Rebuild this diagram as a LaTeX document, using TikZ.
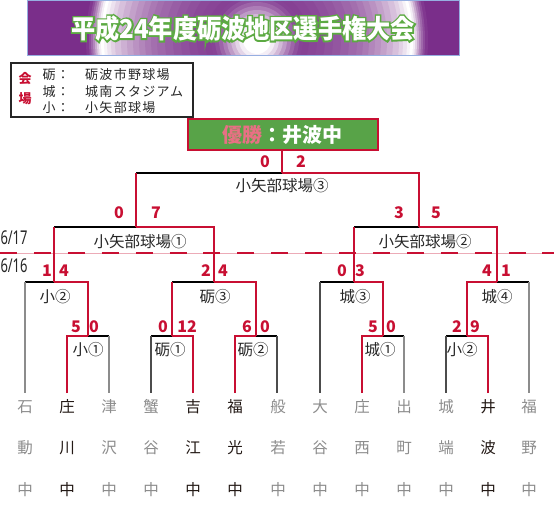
\documentclass[tikz,border=0pt]{standalone}
\usepackage{fontspec}
\setmainfont{Noto Sans CJK JP}
\newfontfamily\titleoutline[FakeBold=14]{Noto Sans CJK JP Bold}
\newfontfamily\venuefont[LetterSpace=10]{Noto Sans CJK JP}
\newfontfamily\numfont{Noto Sans}
\usetikzlibrary{calc}
\definecolor{brk}{RGB}{200,15,50}
\definecolor{wgreen}{RGB}{88,163,72}
\definecolor{tgreen}{RGB}{92,170,66}
\definecolor{tgray}{RGB}{140,140,140}
\definecolor{tblack}{RGB}{35,25,21}
\definecolor{pinkred}{RGB}{232,112,132}
\definecolor{bline}{RGB}{150,175,225}
\definecolor{purp}{RGB}{122,46,138}
\tikzset{
  win/.style={draw=brk, line width=2.6pt, line join=miter},
  hl/.style={draw=black, line width=1.1pt},
  tl/.style={draw=tgray, line width=1.3pt},
  tld/.style={draw=black!70, line width=1.2pt},
  sc/.style={text=brk, font=\bfseries\fontsize{16}{16}\selectfont, inner sep=0pt},
  lb/.style={text=black!85, font=\fontsize{15.5}{15.5}\selectfont, inner sep=0pt},
  tm/.style={font=\fontsize{15.5}{15.5}\selectfont, inner sep=0pt},
  dt/.style={text=black!85, font=\numfont\fontsize{19}{19}\selectfont, inner sep=0pt},
  vt/.style={text=black!85, font=\fontsize{13}{13}\selectfont, inner sep=0pt},
  vr/.style={text=brk, font=\bfseries\fontsize{13}{13}\selectfont, inner sep=0pt},
  ttl/.style={font=\bfseries\fontsize{26}{26}\selectfont, inner sep=0pt},
  ttlo/.style={font=\titleoutline\fontsize{26}{26}\selectfont, inner sep=0pt}
}
\begin{document}
\begin{tikzpicture}[x=1pt,y=-1pt]
\useasboundingbox (0,0) rectangle (554,510);
% banner
\coordinate (gc) at (257,40);
\begin{scope}
\clip (27,0) rectangle (459,55);
\fill[purp] (27,0) rectangle (459,55);
\foreach \r/\w in {171/5,168/15,166/28,164/42,162/60,160/78,158/92,156/100,153/94,150/86,146/78,142/70,136/62,130/55,124/48,118/42,112/36,106/31,100/27,92/23,84/19,76/16,68/13,60/11,52/9,46/10,42/16,38/26,34/38,30/52,26/66,22/80,18/92,14/100}
  \fill[white!\w!purp] (gc) circle (\r pt);
\end{scope}
\draw[bline, line width=0.9pt] (27,0.5) rectangle (459,55);
\coordinate (tc) at (243,28.5);
\node[ttlo, text=tgreen] (tout) at (tc) {\scalebox{0.93}[1]{平成24年度砺波地区選手権大会}};
\node[ttl, text=white] (title) at (tc) {\scalebox{0.93}[1]{平成24年度砺波地区選手権大会}};
% venue box
\node[draw=black!85, line width=2.5pt, minimum width=182pt, minimum height=54pt, inner sep=0pt] (venue) at (102,90) {};
\node[vr] (v1) at (25,79) {会};
\node[vr] (v2) at (25,99) {場};
\node[vt] (r1a) at (49,75) {砺};
\node[vt] (r1b) at (63,75) {：};
\node[vt, anchor=west] (r1c) at (85,75) {\venuefont 砺波市野球場};
\node[vt] (r2a) at (49,91.5) {城};
\node[vt] (r2b) at (63,91.5) {：};
\node[vt, anchor=west] (r2c) at (85,91.5) {\venuefont 城南スタジアム};
\node[vt] (r3a) at (49,108) {小};
\node[vt] (r3b) at (63,108) {：};
\node[vt, anchor=west] (r3c) at (85,108) {\venuefont 小矢部球場};
% champion
\node[draw=brk, line width=2.5pt, fill=wgreen, minimum width=190pt, minimum height=31pt, inner sep=0pt] (champ) at (283,134.5) {};
\node[text=white, font=\bfseries\fontsize{20}{20}\selectfont, inner sep=0pt] (champtxt) at (282,135) {\textcolor{pinkred}{優勝}：井波中};
% day divider
\coordinate (dl) at (0,253);
\coordinate (dr) at (554,253);
\draw[brk!35, line width=0.6pt] (dl) -- (dr);
\draw[brk, line width=2.6pt, dash pattern=on 17pt off 16.9pt] (dl) -- (dr);
\node[dt] (d17) at (14,238) {\scalebox{0.68}[1]{6/17}};
\node[dt] (d16) at (14,266) {\scalebox{0.68}[1]{6/16}};
% team line ends
\foreach \x [count=\i] in {25,67,109,151,193,235,277,320,362,404,446,488,529}
  \coordinate (t\i) at (\x,393);
% junctions
\coordinate (a1) at (88,336);
\coordinate (a2) at (172,336);
\coordinate (a3) at (256,336);
\coordinate (a4) at (383,336);
\coordinate (a5) at (467,336);
\coordinate (b1) at (54,282);
\coordinate (b2) at (214,282);
\coordinate (b3) at (354,282);
\coordinate (b4) at (497,282);
\coordinate (c1) at (136,227);
\coordinate (c2) at (419,227);
\coordinate (d) at (282,173);
% loser lines
\draw[hl] (a1) -- (a1 -| t3);  \draw[tl] (a1 -| t3) -- (t3);
\draw[hl] (b1) -- (b1 -| t1);  \draw[tl] (b1 -| t1) -- (t1);
\draw[hl] (a2) -- (a2 -| t4);  \draw[tld] (a2 -| t4) -- (t4);
\draw[hl] (a3) -- (a3 -| t7);  \draw[tld] (a3 -| t7) -- (t7);
\draw[hl] (a2 |- b2) -- (b2);
\draw[hl] (b1 |- c1) -- (c1);
\draw[hl] (a4) -- (a4 -| t10); \draw[tl] (a4 -| t10) -- (t10);
\draw[hl] (b3) -- (b3 -| t8);  \draw[tld] (b3 -| t8) -- (t8);
\draw[hl] (a5) -- (a5 -| t11); \draw[tld] (a5 -| t11) -- (t11);
\draw[hl] (b4) -- (b4 -| t13); \draw[tl] (b4 -| t13) -- (t13);
\draw[hl] (b3 |- c2) -- (c2);
\draw[hl] (c1 |- d) -- (d);
% winner lines
\draw[win] (t2) |- (a1);
\draw[win] (a1) |- (b1);
\draw[win] (t5) |- (a2);
\draw[win] (t6) |- (a3);
\draw[win] (a3) |- (b2);
\draw[win] (a2) -- (a2 |- b2);
\draw[win] (b2) |- (c1);
\draw[win] (b1) -- (b1 |- c1);
\draw[win] (t9) |- (a4);
\draw[win] (a4) |- (b3);
\draw[win] (t12) |- (a5);
\draw[win] (a5) |- (b4);
\draw[win] (b4) |- (c2);
\draw[win] (b3) -- (b3 |- c2);
\draw[win] (c2) |- (d);
\draw[win] (c1) -- (c1 |- d);
\draw[win] (d) -- (d |- champ.south);
% scores
\node[sc] (s1) at (76,327) {5};   \node[sc] (s2) at (94,327) {0};
\node[sc] (s3) at (47,271) {1};   \node[sc] (s4) at (64,271) {4};
\node[sc] (s5) at (163,327) {0};  \node[sc] (s6) at (187,327) {12};
\node[sc] (s7) at (247,327) {6};  \node[sc] (s8) at (265,327) {0};
\node[sc] (s9) at (206,271) {2};  \node[sc] (s10) at (223,271) {4};
\node[sc] (s11) at (119,213) {0}; \node[sc] (s12) at (156,213) {7};
\node[sc] (s13) at (265,162) {0}; \node[sc] (s14) at (301,162) {2};
\node[sc] (s15) at (342,271) {0}; \node[sc] (s16) at (360,271) {3};
\node[sc] (s17) at (373,327) {5}; \node[sc] (s18) at (391,327) {0};
\node[sc] (s19) at (457,327) {2}; \node[sc] (s20) at (475,327) {9};
\node[sc] (s21) at (487,271) {4}; \node[sc] (s22) at (506,271) {1};
\node[sc] (s23) at (399,213) {3}; \node[sc] (s24) at (436,213) {5};
% game labels
\node[lb] (g1) at (282,186) {小矢部球場③};
\node[lb] (g2) at (140,242) {小矢部球場①};
\node[lb] (g3) at (425,242) {小矢部球場②};
\node[lb] (g4) at (55,297) {小②};
\node[lb] (g5) at (215,297) {砺③};
\node[lb] (g6) at (355,297) {城③};
\node[lb] (g7) at (497,297) {城④};
\node[lb] (g8) at (88,350) {小①};
\node[lb] (g9) at (170,350) {砺①};
\node[lb] (g10) at (253,350) {砺②};
\node[lb] (g11) at (380,350) {城①};
\node[lb] (g12) at (462,350) {小②};
% teams
\foreach \x/\p/\q/\c [count=\i] in {25/石/動/tgray,67/庄/川/tblack,109/津/沢/tgray,151/蟹/谷/tgray,193/吉/江/tblack,235/福/光/tblack,278/般/若/tgray,320/大/谷/tgray,362/庄/西/tgray,404/出/町/tgray,446/城/端/tgray,488/井/波/tblack,529/福/野/tgray}{
  \node[tm, text=\c] (n\i a) at (\x,407) {\p};
  \node[tm, text=\c] (n\i b) at (\x,448) {\q};
  \node[tm, text=\c] (n\i c) at (\x,490) {中};
}
\end{tikzpicture}
\end{document}
